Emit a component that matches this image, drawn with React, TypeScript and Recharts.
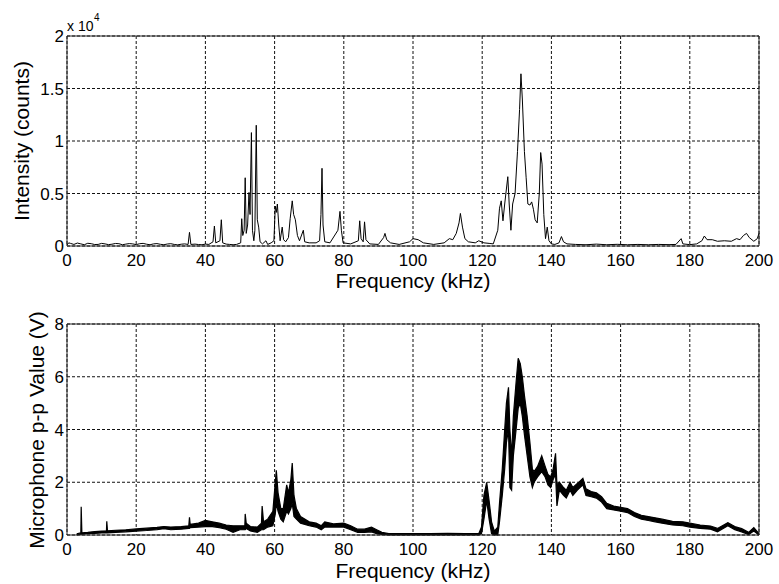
import {
  LineChart,
  Line,
  AreaChart,
  Area,
  XAxis,
  YAxis,
  CartesianGrid,
  ReferenceArea,
} from "recharts";

// Upper panel: spectrum intensity (counts) vs frequency (kHz)
const specFreq = [
  0, 0.5, 1, 2, 3, 4, 5, 6, 7, 8, 9, 10, 11, 12, 13, 14, 15, 16, 17, 18, 19,
  20, 21, 22, 23, 24, 25, 26, 27, 28, 29, 30, 31, 32, 33, 34, 35, 35.4, 35.8,
  37, 38, 39, 40, 41, 42.2, 42.6, 43, 44.2, 44.6, 45, 46, 47, 48, 49, 50.2,
  50.5, 50.8, 51.2, 51.5, 51.8, 52.2, 52.6, 52.9, 53.3, 53.6, 54.0, 54.3, 54.7,
  55.0, 55.4, 55.8, 56.5, 57.5, 58, 59, 59.8, 60.2, 60.5, 60.8, 61.2, 61.6,
  62.2, 62.6, 63.2, 64, 64.5, 65.1, 65.5, 66, 66.6, 67.2, 68.3, 68.7, 70, 72,
  73, 73.4, 73.7, 74, 74.5, 76, 78.3, 78.9, 79.3, 79.8, 82, 84.2, 84.6, 85.0,
  85.6, 86.0, 86.4, 87.5, 90, 91.5, 91.9, 92.4, 93.5, 96, 99, 100, 101.5, 103,
  106, 109, 110.5, 111.5, 112.5, 113.3, 113.7, 114.3, 115, 116, 118, 119,
  120.5, 122, 123.2, 124.5, 125, 125.5, 126, 126.5, 127.4, 127.8, 128.3, 128.8,
  129.5, 130.2, 130.8, 131.2, 131.6, 132.2, 132.7, 133.2, 133.8, 134.3, 134.8,
  135.3, 135.9, 136.5, 136.9, 137.3, 137.8, 138.3, 138.8, 139.3, 140, 141,
  142.2, 142.9, 143.5, 144.5, 147, 150, 153, 156, 159, 162, 165, 168, 171, 174,
  176, 177.5, 178, 180, 182, 183.5, 184.2, 185, 186.5, 188, 190, 192, 193.5,
  194.5, 195.5, 196.4, 197.2, 198.5, 199.5, 200,
];
const specCounts = [
  100, 300, 250, 150, 280, 200, 120, 260, 220, 140, 150, 250, 200, 130, 170,
  240, 220, 120, 180, 230, 200, 130, 220, 250, 170, 120, 200, 230, 160, 120,
  190, 220, 150, 110, 170, 200, 150, 1300, 150, 180, 140, 120, 180, 150, 400,
  1900, 300, 500, 2500, 300, 180, 150, 120, 150, 300, 2600, 1000, 1500, 6500,
  1200, 2000, 5100, 3000, 10800, 1500, 500, 1500, 11500, 2500, 1800, 400, 200,
  500, 150, 300, 500, 3800, 3200, 4000, 2000, 500, 1800, 600, 400, 800, 2600,
  4300, 3000, 2500, 1000, 500, 1500, 400, 300, 300, 500, 3000, 7400, 2000, 400,
  300, 1500, 3300, 1500, 300, 200, 500, 2400, 700, 400, 2300, 600, 200, 150,
  800, 1200, 600, 300, 150, 400, 700, 600, 300, 150, 300, 700, 600, 1200, 2200,
  3100, 1800, 700, 400, 300, 500, 300, 250, 200, 1500, 3600, 4300, 2400, 4000,
  6600, 4000, 1500, 4000, 5000, 9000, 13000, 16400, 14000, 9000, 6500, 4000,
  3900, 4200, 3500, 2500, 2200, 5000, 8900, 7800, 3000, 700, 1800, 500, 200,
  150, 300, 900, 400, 200, 150, 120, 180, 120, 160, 120, 150, 120, 150, 130,
  150, 700, 200, 130, 200, 500, 950, 600, 600, 450, 500, 450, 700, 600, 1000,
  1200, 800, 450, 700, 1200,
];

// Lower panel: microphone peak-to-peak band (low / high edge of the trace)
const micFreq = [
  2.8, 4.0, 4.1, 4.3, 6, 8, 10, 11.4, 11.5, 11.7, 14, 17, 20, 23, 26, 28, 30,
  33, 35.2, 35.4, 35.6, 38, 40, 42, 44, 46, 48, 50, 51.4, 51.5, 51.8, 53, 55,
  56.2, 56.4, 56.8, 58, 59.5, 60.2, 60.5, 61, 61.8, 62.5, 63.5, 64, 64.7, 65.1,
  65.6, 66.3, 67.5, 70, 72, 73.5, 74.5, 77, 80, 82, 84, 86, 88, 89.5, 91, 93,
  100, 105, 110, 115, 119, 119.8, 120.5, 121.3, 122, 122.7, 123.5, 124.5, 125,
  125.8, 126.5, 127, 127.6, 128, 128.5, 129, 129.8, 130.4, 131, 131.6, 132.2,
  133, 133.8, 134.5, 135, 136, 137.2, 138.2, 139, 139.8, 140.5, 141.2, 141.6,
  142.3, 143.5, 144.3, 145.4, 146.2, 147.5, 149.1, 150, 151.5, 153, 154.5, 156,
  158, 160, 162, 164, 166, 168, 170, 172, 175, 178, 180, 183, 186, 188, 191,
  193, 195, 197, 198.5, 200,
];
const micLow = [
  0.0, 0.03, 0.03, 0.03, 0.05, 0.06, 0.08, 0.08, 0.08, 0.08, 0.1, 0.12, 0.15,
  0.17, 0.2, 0.24, 0.2, 0.22, 0.25, 0.25, 0.28, 0.3, 0.32, 0.32, 0.28, 0.22,
  0.1, 0.2, 0.2, 0.2, 0.25, 0.15, 0.1, 0.2, 0.2, 0.2, 0.3, 0.35, 0.8, 1.2, 0.9,
  0.6, 0.5, 0.9, 0.8, 1.0, 1.2, 0.7, 0.6, 0.45, 0.35, 0.3, 0.2, 0.3, 0.3, 0.3,
  0.2, 0.1, 0.1, 0.12, 0.05, 0.02, 0.0, 0.0, 0.0, 0.0, 0.0, 0.0, 0.05, 0.6,
  1.3, 0.6, 0.05, 0.0, 0.0, 0.5, 1.5, 2.5, 3.5, 4.0, 1.8, 1.7, 3.0, 4.0, 4.8,
  5.0, 4.5, 3.8, 3.0, 2.2, 1.8, 2.0, 2.2, 2.4, 2.2, 1.9, 1.8, 2.1, 2.3, 1.1,
  1.7, 1.5, 1.4, 1.7, 1.5, 1.7, 1.9, 1.5, 1.45, 1.4, 1.25, 1.0, 0.95, 0.9,
  0.85, 0.7, 0.6, 0.55, 0.5, 0.45, 0.38, 0.35, 0.3, 0.25, 0.22, 0.12, 0.35,
  0.2, 0.12, 0.02, 0.15, 0.0,
];
const micHigh = [
  0.04, 0.08, 1.07, 0.08, 0.1, 0.13, 0.15, 0.16, 0.52, 0.16, 0.18, 0.2, 0.23,
  0.26, 0.29, 0.32, 0.3, 0.32, 0.35, 0.67, 0.4, 0.45, 0.55, 0.5, 0.45, 0.38,
  0.35, 0.35, 0.35, 0.8, 0.45, 0.32, 0.3, 0.45, 1.1, 0.5, 0.6, 0.9, 2.0, 2.45,
  1.6, 1.0, 1.0, 1.9, 1.6, 2.1, 2.73, 1.5, 1.0, 0.7, 0.5, 0.45, 0.35, 0.5,
  0.42, 0.45, 0.35, 0.22, 0.22, 0.3, 0.2, 0.1, 0.05, 0.05, 0.05, 0.06, 0.05,
  0.05, 0.3, 1.5, 2.0, 1.3, 0.5, 0.15, 0.3, 1.2, 2.5, 4.0, 5.0, 5.6, 4.0, 3.0,
  4.5, 5.8, 6.7, 6.5, 6.0, 5.3, 4.5, 3.5, 2.5, 2.4, 2.6, 3.0, 2.6, 2.3, 2.2,
  2.5, 3.1, 1.9, 2.0, 1.8, 1.7, 2.0, 1.8, 1.95, 2.15, 1.75, 1.65, 1.6, 1.45,
  1.2, 1.1, 1.05, 1.0, 0.85, 0.75, 0.7, 0.65, 0.6, 0.52, 0.5, 0.45, 0.38,
  0.34, 0.25, 0.47, 0.32, 0.24, 0.1, 0.28, 0.05,
];

const freqTicks = [0, 20, 40, 60, 80, 100, 120, 140, 160, 180, 200];
const countTicks = [0, 5000, 10000, 15000, 20000];
const voltTicks = [0, 2, 4, 6, 8];

const specData = specFreq.map((f, i) => ({ f, counts: specCounts[i] }));
const micData = micFreq.map((f, i) => ({ f, range: [micLow[i], micHigh[i]] }));

const FONT = "'Liberation Sans', Arial, Helvetica, sans-serif";
const tickStyle = { fill: "#000", fontSize: 17, fontFamily: FONT };
const gridColor = "#111";

function formatCounts(v: number) {
  return String(v / 10000);
}

export default function App() {
  return (
    <div
      style={{
        position: "absolute",
        left: 0,
        top: 0,
        width: 779,
        height: 584,
        background: "#fff",
        fontFamily: FONT,
      }}
    >
      {/* top panel */}
      <div style={{ position: "absolute", left: 0, top: 0 }}>
        <LineChart
          width={779}
          height={292}
          data={specData}
          margin={{ top: 36, right: 20, bottom: 16, left: 17 }}
        >
          <CartesianGrid stroke={gridColor} strokeDasharray="3 2" strokeWidth={1} />
          <XAxis
            dataKey="f"
            type="number"
            domain={[0, 200]}
            ticks={freqTicks}
            height={30}
            tickSize={0}
            tickMargin={8}
            axisLine={false}
            tick={tickStyle}
            interval={0}
          />
          <YAxis
            type="number"
            domain={[0, 20000]}
            ticks={countTicks}
            width={50}
            tickSize={0}
            tickMargin={3}
            axisLine={false}
            tick={tickStyle}
            tickFormatter={formatCounts}
            interval={0}
          />
          <Line
            dataKey="counts"
            type="linear"
            stroke="#000"
            strokeWidth={1}
            dot={false}
            isAnimationActive={false}
          />
          <ReferenceArea
            x1={0}
            x2={200}
            y1={0}
            y2={20000}
            fill="none"
            stroke="#222"
            strokeWidth={1}
            ifOverflow="visible"
          />
        </LineChart>
      </div>

      {/* bottom panel */}
      <div style={{ position: "absolute", left: 0, top: 292 }}>
        <AreaChart
          width={779}
          height={292}
          data={micData}
          margin={{ top: 32, right: 20, bottom: 19, left: 17 }}
        >
          <CartesianGrid stroke={gridColor} strokeDasharray="3 2" strokeWidth={1} />
          <XAxis
            dataKey="f"
            type="number"
            domain={[0, 200]}
            ticks={freqTicks}
            height={30}
            tickSize={0}
            tickMargin={8}
            axisLine={false}
            tick={tickStyle}
            interval={0}
          />
          <YAxis
            type="number"
            domain={[0, 8]}
            ticks={voltTicks}
            width={50}
            tickSize={0}
            tickMargin={3}
            axisLine={false}
            tick={tickStyle}
            interval={0}
          />
          <Area
            dataKey="range"
            type="linear"
            stroke="#000"
            strokeWidth={1.2}
            fill="#000"
            fillOpacity={1}
            dot={false}
            isAnimationActive={false}
          />
          <ReferenceArea
            x1={0}
            x2={200}
            y1={0}
            y2={8}
            fill="none"
            stroke="#222"
            strokeWidth={1}
            ifOverflow="visible"
          />
        </AreaChart>
      </div>

      {/* titles */}
      <svg
        width={779}
        height={584}
        style={{ position: "absolute", left: 0, top: 0, pointerEvents: "none" }}
      >
        <text x={67} y={31} fontSize={14} fontFamily={FONT} fill="#000">
          x 10
        </text>
        <text x={94} y={21} fontSize={10} fontFamily={FONT} fill="#000">
          4
        </text>
        <text x={413} y={288} fontSize={21} fontFamily={FONT} fill="#000" textAnchor="middle">
          Frequency (kHz)
        </text>
        <text x={413} y={578} fontSize={21} fontFamily={FONT} fill="#000" textAnchor="middle">
          Frequency (kHz)
        </text>
        <text
          x={28.5}
          y={141}
          fontSize={21}
          fontFamily={FONT}
          fill="#000"
          textAnchor="middle"
          transform="rotate(-90 28.5 141)"
        >
          Intensity (counts)
        </text>
        <text
          x={43.5}
          y={430}
          fontSize={21}
          fontFamily={FONT}
          fill="#000"
          textAnchor="middle"
          transform="rotate(-90 43.5 430)"
        >
          Microphone p-p Value (V)
        </text>
      </svg>
    </div>
  );
}
